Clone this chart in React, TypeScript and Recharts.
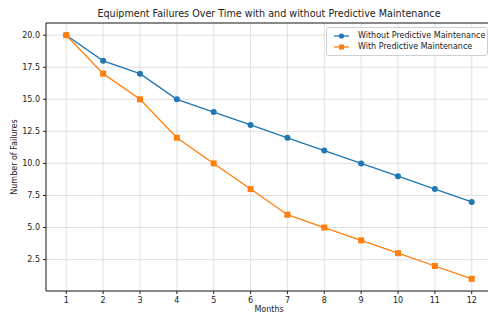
import React from 'react';
import { LineChart, Line, XAxis, YAxis, CartesianGrid, ReferenceLine } from 'recharts';

const months = [1, 2, 3, 4, 5, 6, 7, 8, 9, 10, 11, 12];
const withoutPM = [20, 18, 17, 15, 14, 13, 12, 11, 10, 9, 8, 7];
const withPM = [20, 17, 15, 12, 10, 8, 6, 5, 4, 3, 2, 1];
const yTicks = [2.5, 5.0, 7.5, 10.0, 12.5, 15.0, 17.5, 20.0];

const data = months.map((m, i) => ({ month: m, without: withoutPM[i], with: withPM[i] }));

const BLUE = '#1f77b4';
const ORANGE = '#ff7f0e';
const FONT = 'DejaVu Sans, sans-serif';

const Square = (props: any) => {
  const { cx, cy } = props;
  if (cx == null || cy == null) return null;
  return <rect x={cx - 3} y={cy - 3} width={6} height={6} fill={ORANGE} />;
};
const Dot = (props: any) => {
  const { cx, cy } = props;
  if (cx == null || cy == null) return null;
  return <circle cx={cx} cy={cy} r={3} fill={BLUE} />;
};

const LegendBox = () => (
  <div
    style={{
      border: '1px solid #d0d0d0',
      borderRadius: 3,
      background: 'rgba(255,255,255,0.85)',
      padding: '2px 2px 3px 7px',
      fontFamily: FONT,
      fontSize: 8,
      color: '#222',
      lineHeight: '11px',
      width: 'max-content',
    }}
  >
    {[
      { label: 'Without Predictive Maintenance', color: BLUE, sq: false },
      { label: 'With Predictive Maintenance', color: ORANGE, sq: true },
    ].map((e) => (
      <div key={e.label} style={{ display: 'flex', alignItems: 'center', whiteSpace: 'nowrap' }}>
        <svg width={15} height={8} style={{ marginRight: 9, flexShrink: 0 }}>
          <line x1={0} y1={4} x2={15} y2={4} stroke={e.color} strokeWidth={1.3} />
          {e.sq ? (
            <rect x={5} y={1.5} width={5} height={5} fill={e.color} />
          ) : (
            <circle cx={7.5} cy={4} r={2.6} fill={e.color} />
          )}
        </svg>
        <span>{e.label}</span>
      </div>
    ))}
  </div>
);

export default function App() {
  return (
    <div style={{ position: 'absolute', left: 0, top: 0, width: 488, height: 315, overflow: 'hidden', background: '#fff' }}>
      <div
        style={{
          position: 'absolute',
          left: 0,
          top: 8,
          width: 538,
          textAlign: 'center',
          fontFamily: FONT,
          fontSize: 9.6,
          color: '#222',
        }}
      >
        Equipment Failures Over Time with and without Predictive Maintenance
      </div>
      <div
        style={{
          position: 'absolute',
          left: 0,
          top: 305,
          width: 538,
          textAlign: 'center',
          fontFamily: FONT,
          fontSize: 8,
          color: '#222',
        }}
      >
        Months
      </div>
      <div
        style={{
          position: 'absolute',
          left: 14,
          top: 157,
          transform: 'translate(-50%, -50%) rotate(-90deg)',
          fontFamily: FONT,
          fontSize: 8,
          color: '#222',
          whiteSpace: 'nowrap',
        }}
      >
        Number of Failures
      </div>
      <div style={{ position: 'absolute', left: 0, top: 0 }}>
        <LineChart width={500} height={315} data={data} margin={{ top: 23, right: 8, bottom: 0, left: 0 }}>
          <CartesianGrid stroke="#d9d9d9" strokeWidth={0.8} horizontal vertical />
          <XAxis
            dataKey="month"
            type="number"
            domain={[0.45, 12.55]}
            ticks={months}
            interval={0}
            height={24}
            tick={{ fontSize: 8, fill: '#222', fontFamily: FONT }}
            tickSize={3}
            tickMargin={3}
            stroke="#222"
            allowDataOverflow
          />
          <YAxis
            type="number"
            domain={[0.05, 20.95]}
            ticks={yTicks}
            width={46}
            tickFormatter={(v: number) => v.toFixed(1)}
            tick={{ fontSize: 8, fill: '#222', fontFamily: FONT }}
            tickSize={3}
            tickMargin={3}
            stroke="#222"
            allowDataOverflow
          />
          <ReferenceLine y={20.95} stroke="#222" strokeWidth={1} ifOverflow="visible" />
          <Line
            dataKey="without"
            stroke={BLUE}
            strokeWidth={1.3}
            dot={<Dot />}
            activeDot={false}
            isAnimationActive={false}
          />
          <Line
            dataKey="with"
            stroke={ORANGE}
            strokeWidth={1.3}
            dot={<Square />}
            activeDot={false}
            isAnimationActive={false}
          />
        </LineChart>
      </div>
      <div style={{ position: 'absolute', left: 326, top: 27 }}>
        <LegendBox />
      </div>
    </div>
  );
}
